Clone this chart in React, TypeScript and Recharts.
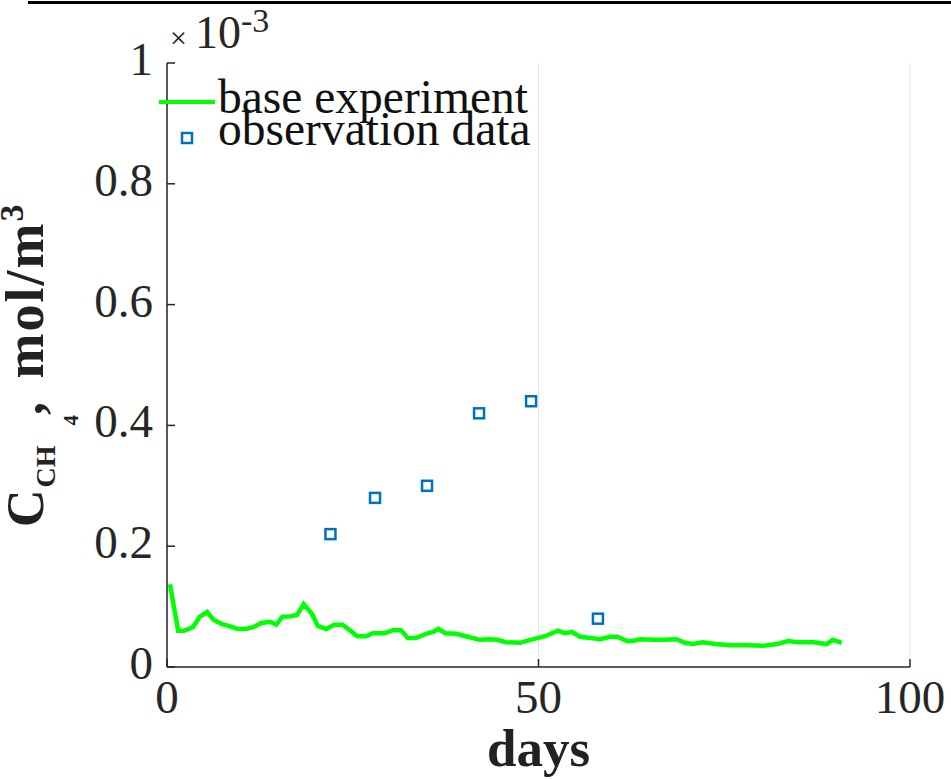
import {
  ComposedChart,
  Line,
  Scatter,
  XAxis,
  YAxis,
  CartesianGrid,
  Legend,
  Label,
} from 'recharts';

// model curve (days, concentration in 1e-3 mol/m3)
const baseDays = [
  0.4, 1.5, 2.3, 3.5, 4.4, 5.4, 6.3, 7.4, 8.3, 9.5, 10.6, 11.6, 12.7, 13.9, 14.7,
  15.5, 16.6, 17.5, 18.4, 19.5, 20.3, 21.4, 22.5, 23.6, 24.6, 25.6, 26.8, 27.7,
  29.3, 30.4, 31.5, 32.4, 33.5, 34.9, 35.8, 36.5, 37.5, 38.9, 40.2, 42.1, 43.5,
  44.5, 45.6, 47.5, 48.9, 50.9, 52.6, 53.6, 54.5, 55.6, 58.3, 59.6, 60.6, 61.9,
  62.6, 63.7, 65.4, 66.8, 68.6, 69.7, 70.8, 72.1, 73.8, 75.8, 78.1, 80.2, 82.1,
  83.6, 84.8, 87.0, 88.8, 89.6, 90.8,
];
const baseValues = [
  0.137, 0.06, 0.06, 0.066, 0.083, 0.091, 0.078, 0.071, 0.068, 0.063, 0.063, 0.066,
  0.073, 0.075, 0.07, 0.083, 0.084, 0.086, 0.104, 0.088, 0.068, 0.063, 0.07, 0.07,
  0.061, 0.051, 0.051, 0.056, 0.056, 0.061, 0.061, 0.048, 0.048, 0.055, 0.058,
  0.063, 0.056, 0.055, 0.051, 0.045, 0.046, 0.045, 0.041, 0.04, 0.045, 0.051,
  0.06, 0.056, 0.058, 0.05, 0.046, 0.05, 0.05, 0.043, 0.043, 0.046, 0.045, 0.045,
  0.046, 0.04, 0.038, 0.041, 0.038, 0.036, 0.036, 0.035, 0.038, 0.043, 0.041,
  0.041, 0.038, 0.045, 0.04,
];

// observations
const obsDays = [22, 28, 35, 42, 49, 58];
const obsValues = [0.22, 0.28, 0.3, 0.42, 0.44, 0.08];

const xTicks = [0, 50, 100];
const yTicks = [0, 0.2, 0.4, 0.6, 0.8, 1];

const baseData = baseDays.map((d, i) => ({ x: d, y: baseValues[i] }));
const obsData = obsDays.map((d, i) => ({ x: d, y: obsValues[i] }));

const FONT = '"Liberation Serif", "DejaVu Serif", serif';
const AXIS = '#262626';

const fmtY = (v: number) => (v === 0 || v === 1 ? String(v) : v.toFixed(1));

const YTick = (props: any) => (
  <text x={props.x} y={props.y + 12} textAnchor="end" fontFamily={FONT} fontSize={47} fill={AXIS}>
    {fmtY(props.payload.value)}
  </text>
);

const XTick = (props: any) => (
  <text x={props.x} y={props.y + 33} textAnchor="middle" fontFamily={FONT} fontSize={47} fill={AXIS}>
    {props.payload.value}
  </text>
);

const YTitle = (props: any) => {
  const vb = props.viewBox;
  const tx = vb.x - 24;
  const ty = vb.y + vb.height - 140;
  return (
    <text
      transform={`translate(${tx}, ${ty}) rotate(-90)`}
      fontFamily={FONT}
      fontWeight="bold"
      fontSize={52}
      fill="#222"
    >
      C
      <tspan fontSize={28} dy={12} dx={2}>CH</tspan>
      <tspan fontSize={21} dy={23} dx={20}>4</tspan>
      <tspan fontSize={52} dy={-35}>,</tspan>
      <tspan fontSize={54} letterSpacing={2} dx={8}> mol/m</tspan>
      <tspan fontSize={34} dy={-20}>3</tspan>
    </text>
  );
};

const Exponent = (props: any) => {
  const vb = props.viewBox;
  return (
    <text x={vb.x + vb.width + 3} y={vb.y - 15} fontFamily={FONT} fontSize={46} fill={AXIS}>
      <tspan fontSize={30}>×</tspan>
      <tspan dx={8}>10</tspan>
      <tspan fontSize={34} dy={-16}>-3</tspan>
    </text>
  );
};

const XTitle = (props: any) => {
  const vb = props.viewBox;
  return (
    <text
      x={vb.x + vb.width / 2}
      y={vb.y + 99}
      textAnchor="middle"
      fontFamily={FONT}
      fontWeight="bold"
      fontSize={53}
      fill="#222"
    >
      days
    </text>
  );
};

const LegendBox = () => (
  <svg width={400} height={90} style={{ display: 'block', overflow: 'visible' }}>
    <line x1={9} y1={32} x2={65} y2={32} stroke="#00ff00" strokeWidth={4} />
    <text x={68} y={43} fontFamily={FONT} fontSize={47.5} fill="#111">
      base experiment
    </text>
    <rect x={32} y={63} width={10} height={10} fill="none" stroke="#0072bd" strokeWidth={2.5} />
    <text x={68} y={75} fontFamily={FONT} fontSize={47.5} fill="#111">
      observation data
    </text>
  </svg>
);

const Square = (props: any) => (
  <rect
    x={props.cx - 5}
    y={props.cy - 5}
    width={10}
    height={10}
    fill="none"
    stroke="#0072bd"
    strokeWidth={2.5}
  />
);

export default function App() {
  return (
    <div style={{ position: 'absolute', left: 0, top: 0, width: 951, height: 779, background: '#fff' }}>
      <div style={{ position: 'absolute', left: 28, top: 1, width: 923, height: 3, background: '#000' }} />
      <ComposedChart width={951} height={779} margin={{ top: 63, right: 41, bottom: 0, left: 67 }}>
        <CartesianGrid horizontal={false} stroke="#e3e3e3" strokeWidth={1} />
        <XAxis
          dataKey="x"
          type="number"
          domain={[0, 100]}
          ticks={xTicks}
          height={112}
          tickSize={-8}
          tickMargin={21}
          tick={<XTick />}
          stroke={AXIS}
          strokeWidth={1.5}
        >
          <Label content={<XTitle />} />
        </XAxis>
        <XAxis
          xAxisId="top"
          orientation="top"
          type="number"
          domain={[0, 100]}
          ticks={xTicks}
          height={0}
          tickSize={-8}
          tick={false}
          stroke={AXIS}
          strokeWidth={1.5}
        />
        <YAxis
          type="number"
          domain={[0, 1]}
          ticks={yTicks}
          width={100}
          tickSize={-8}
          tickMargin={22}
          tick={<YTick />}
          stroke={AXIS}
          strokeWidth={1.5}
        >
          <Label content={<YTitle />} />
          <Label content={<Exponent />} />
        </YAxis>
        <YAxis
          yAxisId="right"
          orientation="right"
          type="number"
          domain={[0, 1]}
          ticks={yTicks}
          width={0}
          tickSize={-8}
          tick={false}
          stroke={AXIS}
          strokeWidth={1.5}
        />
        <Legend
          layout="vertical"
          align="center"
          verticalAlign="middle"
          content={<LegendBox />}
          wrapperStyle={{ position: 'absolute', left: 150, top: 70, width: 400, height: 90 }}
        />
        <Line
          data={baseData}
          dataKey="y"
          type="linear"
          stroke="#00ff00"
          strokeWidth={4.5}
          dot={false}
          isAnimationActive={false}
          name="base experiment"
        />
        <Scatter
          data={obsData}
          dataKey="y"
          shape={<Square />}
          isAnimationActive={false}
          name="observation data"
        />
      </ComposedChart>
    </div>
  );
}
